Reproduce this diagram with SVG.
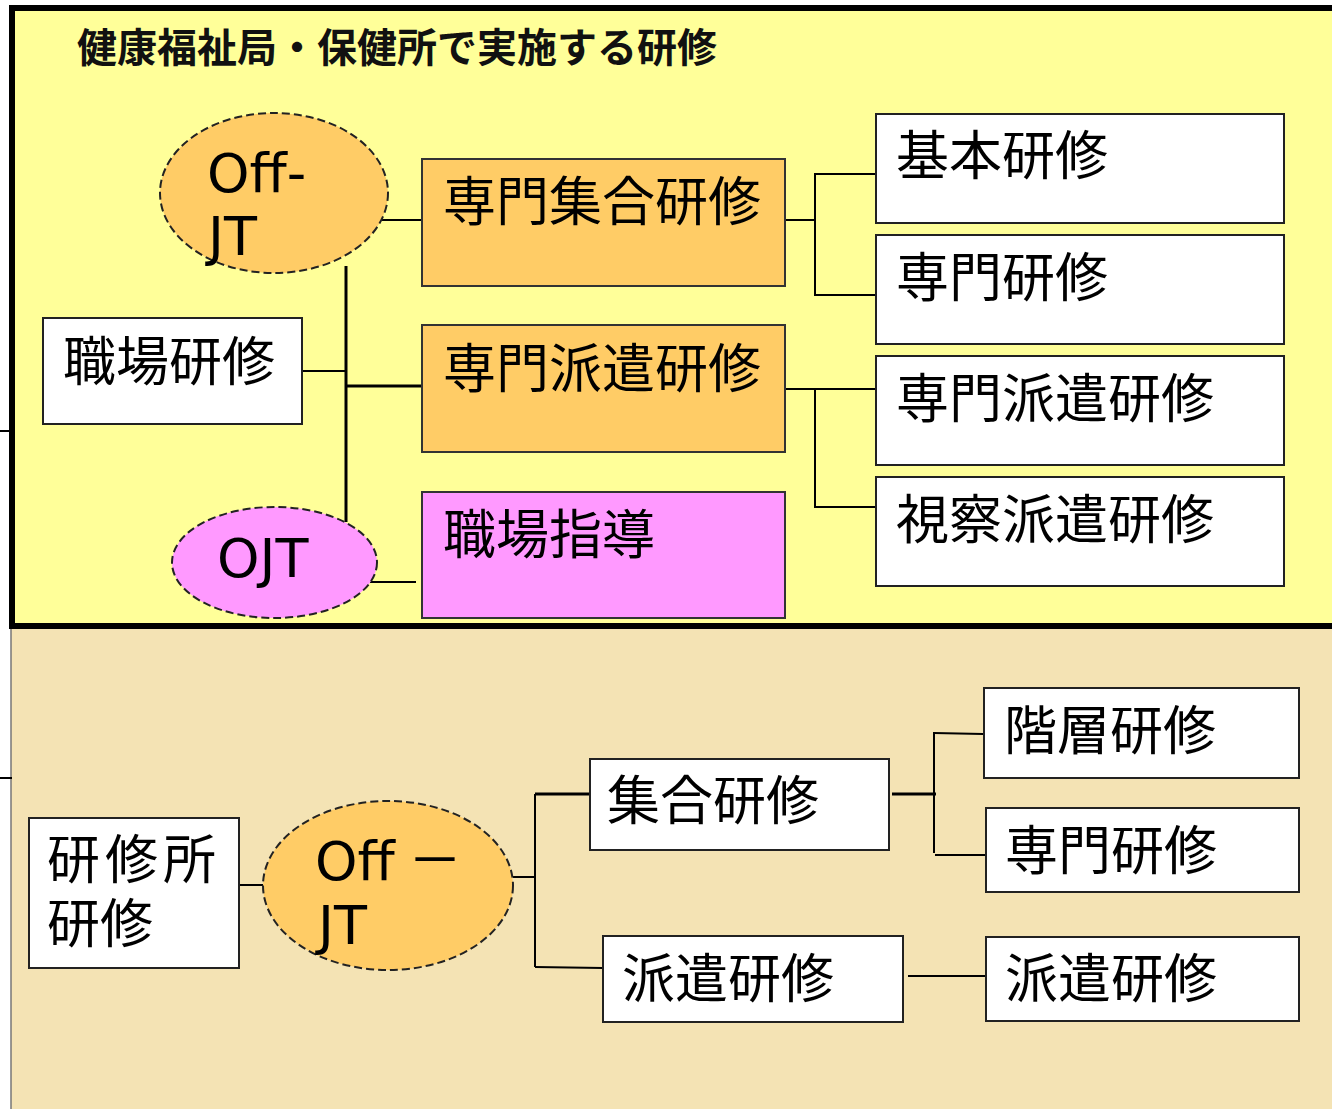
<svg xmlns="http://www.w3.org/2000/svg" width="1332" height="1109" viewBox="0 0 1332 1109">
<style>
  .jp { font-family: "Noto Sans CJK JP", "Noto Sans CJK SC", sans-serif; font-size: 53px; fill: #000; }
  .title { font-family: "Noto Sans CJK JP", "Noto Sans CJK SC", sans-serif; font-size: 40px; font-weight: bold; fill: #111; }
  .lat { font-family: "DejaVu Sans", "Noto Sans CJK JP", sans-serif; font-size: 54px; fill: #000; }
  .box { fill: #FFFFFF; stroke: #222; stroke-width: 2; }
  .obox { fill: #FFCC66; stroke: #333; stroke-width: 2; }
  .pbox { fill: #FF99FF; stroke: #333; stroke-width: 2; }
  .oell { fill: #FFCC66; stroke: #222; stroke-width: 2; stroke-dasharray: 8 4; }
  .pell { fill: #FF99FF; stroke: #222; stroke-width: 2; stroke-dasharray: 8 4; }
  .ln { stroke: #000; stroke-width: 2; fill: none; }
  .lnb { stroke: #000; stroke-width: 3; fill: none; }
</style>

<!-- panels -->
<rect id="lower-panel" x="11" y="628" width="1330" height="490" fill="#F4E3B4" stroke="#777" stroke-width="1.5"/>
<rect id="upper-panel" x="12" y="8" width="1330" height="618" fill="#FFFF99" stroke="#000" stroke-width="6"/>
<text class="title" x="77" y="62">健康福祉局・保健所で実施する研修</text>

<g id="connectors">
  <!-- upper -->
  <line class="ln" x1="381" y1="220" x2="422" y2="220"/>
  <line class="lnb" x1="346" y1="266" x2="346" y2="522"/>
  <line class="ln" x1="302" y1="371" x2="346" y2="371"/>
  <line class="lnb" x1="346" y1="386" x2="422" y2="386"/>
  <line class="ln" x1="370" y1="582" x2="416" y2="582"/>
  <line class="ln" x1="785" y1="220" x2="815" y2="220"/>
  <polyline class="ln" points="876,174 815,174 815,295 876,295"/>
  <line class="ln" x1="785" y1="389" x2="876" y2="389"/>
  <polyline class="ln" points="815,389 815,507 876,507"/>
  <!-- lower -->
  <line class="ln" x1="239" y1="885" x2="263" y2="885"/>
  <line class="ln" x1="513" y1="877" x2="535" y2="877"/>
  <line class="ln" x1="535" y1="794" x2="535" y2="967"/>
  <line class="lnb" x1="535" y1="794" x2="590" y2="794"/>
  <line class="ln" x1="535" y1="967" x2="603" y2="968"/>
  <line class="lnb" x1="892" y1="794" x2="936" y2="794"/>
  <line class="ln" x1="934" y1="732" x2="934" y2="853"/>
  <line class="ln" x1="934" y1="733" x2="983" y2="734"/>
  <line class="ln" x1="935" y1="855" x2="985" y2="855"/>
  <line class="ln" x1="908" y1="976" x2="985" y2="976"/>
  <!-- edge ticks -->
  <line class="ln" x1="0" y1="431" x2="9" y2="431"/>
  <line class="ln" x1="0" y1="778" x2="12" y2="778"/>
</g>

<g id="offjt-upper">
  <ellipse class="oell" cx="274" cy="193" rx="114" ry="80"/>
  <text class="lat"><tspan x="207" y="192">Off-</tspan><tspan x="208" y="255">JT</tspan></text>
</g>
<g id="ojt">
  <ellipse class="pell" cx="274.5" cy="562.5" rx="102.5" ry="55.5"/>
  <text class="lat" x="217" y="577">OJT</text>
</g>
<g id="shokuba-kenshu">
  <rect class="box" x="43" y="318" width="259" height="106"/>
  <text class="jp" x="63" y="381">職場研修</text>
</g>
<g id="senmon-shugo">
  <rect class="obox" x="422" y="159" width="363" height="127"/>
  <text class="jp" x="443" y="221">専門集合研修</text>
</g>
<g id="senmon-haken">
  <rect class="obox" x="422" y="325" width="363" height="127"/>
  <text class="jp" x="443" y="388">専門派遣研修</text>
</g>
<g id="shokuba-shido">
  <rect class="pbox" x="422" y="492" width="363" height="126"/>
  <text class="jp" x="443" y="554">職場指導</text>
</g>
<g id="kihon">
  <rect class="box" x="876" y="114" width="408" height="109"/>
  <text class="jp" x="896" y="175">基本研修</text>
</g>
<g id="senmon-upper">
  <rect class="box" x="876" y="235" width="408" height="109"/>
  <text class="jp" x="896" y="297">専門研修</text>
</g>
<g id="senmon-haken-right">
  <rect class="box" x="876" y="356" width="408" height="109"/>
  <text class="jp" x="896" y="418">専門派遣研修</text>
</g>
<g id="shisatsu-haken">
  <rect class="box" x="876" y="477" width="408" height="109"/>
  <text class="jp" x="896" y="539">視察派遣研修</text>
</g>

<g id="kenshujo">
  <rect class="box" x="29" y="818" width="210" height="150"/>
  <text class="jp"><tspan x="47" y="879" letter-spacing="5">研修所</tspan><tspan x="47" y="943">研修</tspan></text>
</g>
<g id="offjt-lower">
  <ellipse class="oell" cx="388" cy="885.5" rx="125" ry="84.5" stroke-dasharray="7 4" stroke-width="1.8"/>
  <text class="lat" font-size="53"><tspan x="315" y="880">Off </tspan><tspan font-family="Noto Sans CJK JP, sans-serif" x="408" y="880">－</tspan><tspan x="318" y="944">JT</tspan></text>
</g>
<g id="shugo">
  <rect class="box" x="590" y="759" width="299" height="91"/>
  <text class="jp" x="607" y="820">集合研修</text>
</g>
<g id="kaiso">
  <rect class="box" x="984" y="688" width="315" height="90"/>
  <text class="jp" x="1004" y="750">階層研修</text>
</g>
<g id="senmon-lower">
  <rect class="box" x="986" y="808" width="313" height="84"/>
  <text class="jp" x="1005" y="870">専門研修</text>
</g>
<g id="haken-left">
  <rect class="box" x="603" y="936" width="300" height="86"/>
  <text class="jp" x="622" y="998">派遣研修</text>
</g>
<g id="haken-right">
  <rect class="box" x="986" y="937" width="313" height="84"/>
  <text class="jp" x="1005" y="998">派遣研修</text>
</g>
</svg>
